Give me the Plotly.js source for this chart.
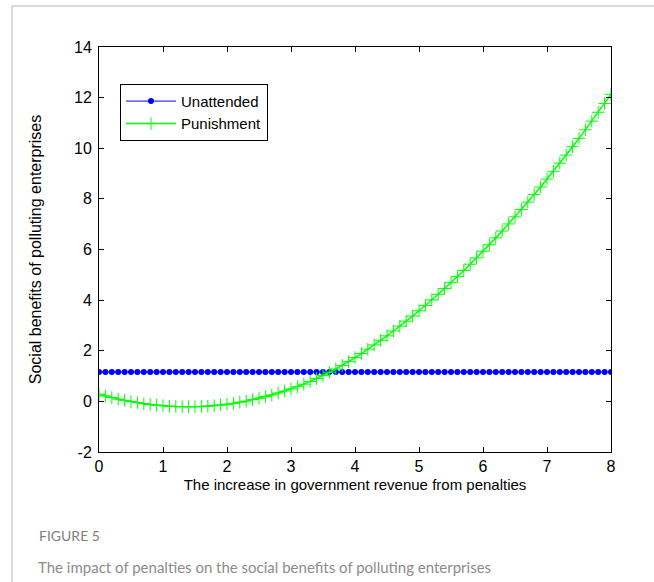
<!DOCTYPE html>
<html>
<head>
<meta charset="utf-8">
<script src="https://cdn.plot.ly/plotly-3.0.1.min.js"></script>
<style>html,body{margin:0;padding:0;background:#fff;}#chart{width:654px;height:582px;}</style>
</head>
<body>
<div id="chart"></div>
<script>
var xValues = [0,0.1,0.2,0.3,0.4,0.5,0.6,0.7,0.8,0.9,1,1.1,1.2,1.3,1.4,1.5,1.6,1.7,1.8,1.9,2,2.1,2.2,2.3,2.4,2.5,2.6,2.7,2.8,2.9,3,3.1,3.2,3.3,3.4,3.5,3.6,3.7,3.8,3.9,4,4.1,4.2,4.3,4.4,4.5,4.6,4.7,4.8,4.9,5,5.1,5.2,5.3,5.4,5.5,5.6,5.7,5.8,5.9,6,6.1,6.2,6.3,6.4,6.5,6.6,6.7,6.8,6.9,7,7.1,7.2,7.3,7.4,7.5,7.6,7.7,7.8,7.9,8];
var unattended = [1.16,1.16,1.16,1.16,1.16,1.16,1.16,1.16,1.16,1.16,1.16,1.16,1.16,1.16,1.16,1.16,1.16,1.16,1.16,1.16,1.16,1.16,1.16,1.16,1.16,1.16,1.16,1.16,1.16,1.16,1.16,1.16,1.16,1.16,1.16,1.16,1.16,1.16,1.16,1.16,1.16,1.16,1.16,1.16,1.16,1.16,1.16,1.16,1.16,1.16,1.16,1.16,1.16,1.16,1.16,1.16,1.16,1.16,1.16,1.16,1.16,1.16,1.16,1.16,1.16,1.16,1.16,1.16,1.16,1.16,1.16,1.16,1.16,1.16,1.16,1.16,1.16,1.16,1.16,1.16,1.16];
var punishment = [0.28,0.21,0.15,0.09,0.04,-0.01,-0.05,-0.09,-0.12,-0.15,-0.17,-0.19,-0.20,-0.21,-0.21,-0.21,-0.20,-0.19,-0.17,-0.14,-0.11,-0.08,-0.03,0.01,0.07,0.12,0.19,0.25,0.33,0.41,0.49,0.58,0.68,0.79,0.90,1.02,1.15,1.28,1.42,1.57,1.73,1.89,2.06,2.23,2.41,2.59,2.78,2.97,3.17,3.37,3.58,3.79,4.01,4.23,4.46,4.69,4.93,5.17,5.42,5.67,5.93,6.19,6.46,6.73,7.01,7.29,7.58,7.87,8.17,8.47,8.78,9.09,9.41,9.73,10.06,10.39,10.73,11.07,11.42,11.77,12.13];
var seriesNames = ["Unattended", "Punishment"];
var xTicks = [0,1,2,3,4,5,6,7,8];
var yTicks = [-2,0,2,4,6,8,10,12,14];
var xTitle = "The increase in government revenue from penalties";
var yTitle = "Social benefits of polluting enterprises";
var figLabel = "FIGURE 5";
var figCaption = "The impact of penalties on the social benefits of polluting enterprises";

var FONT = "Liberation Sans";

var traces = [
  {x: xValues, y: unattended, name: seriesNames[0], type: 'scatter', mode: 'lines+markers',
   line: {color: '#0000ff', width: 1}, marker: {symbol: 'circle', size: 6, color: '#0000ff'}},
  {x: xValues, y: punishment, name: seriesNames[1], type: 'scatter', mode: 'lines+markers',
   line: {color: '#00ff00', width: 1.5}, marker: {symbol: 'cross-thin', size: 9, line: {color: '#00ff00', width: 1}}}
];

function axis(extra) {
  var a = {showgrid: false, zeroline: false, showline: true, linecolor: '#000', linewidth: 1,
    mirror: 'allticks', ticks: 'inside', ticklen: 5, tickcolor: '#000', tickwidth: 1,
    tickfont: {family: FONT, size: 16, color: '#000'}, automargin: false};
  for (var k in extra) a[k] = extra[k];
  return a;
}

var layout = {
  width: 654, height: 582,
  font: {family: FONT, size: 15, color: '#000'},
  margin: {l: 99, r: 43, t: 47, b: 130},
  paper_bgcolor: '#fff', plot_bgcolor: '#fff',
  showlegend: true,
  legend: {x: 0.041, y: 0.909, xanchor: 'left', yanchor: 'top', bordercolor: '#000', borderwidth: 1,
    bgcolor: '#fff', font: {family: FONT, size: 15, color: '#000'}, itemwidth: 50,
    tracegroupgap: 0},
  xaxis: axis({range: [0, 8], tickmode: 'array', tickvals: xTicks, ticktext: xTicks.map(String), ticklabelstandoff: 0,
    title: {text: xTitle, standoff: 5, font: {family: FONT, size: 15, color: '#000'}}}),
  yaxis: axis({range: [-2, 14], tickmode: 'array', tickvals: yTicks, ticktext: yTicks.map(String), ticklabelstandoff: 3,
    title: {text: yTitle, standoff: 28, font: {family: FONT, size: 16, color: '#000'}}}),
  shapes: [
    {type: 'line', xref: 'paper', yref: 'paper', x0: -0.17, x1: 1.1, y0: 1.101, y1: 1.101, line: {color: '#cccccc', width: 1.5}},
    {type: 'line', xref: 'paper', yref: 'paper', x0: -0.17, x1: -0.17, y0: 1.101, y1: -0.33, line: {color: '#cccccc', width: 1.5}}
  ],
  annotations: [
    {text: figLabel, xref: 'paper', yref: 'paper', x: (37-99)/512, y: (452-535)/405, xanchor: 'left', yanchor: 'middle',
     showarrow: false, font: {family: 'Lato', size: 14, color: '#808080'}},
    {text: figCaption, xref: 'paper', yref: 'paper', x: (36-99)/512, y: (452-567)/405, xanchor: 'left', yanchor: 'middle',
     showarrow: false, font: {family: 'Lato', size: 15, color: '#8c8c8c'}}
  ]
};

Plotly.newPlot('chart', traces, layout, {displayModeBar: false, staticPlot: true});
</script>
</body>
</html>
